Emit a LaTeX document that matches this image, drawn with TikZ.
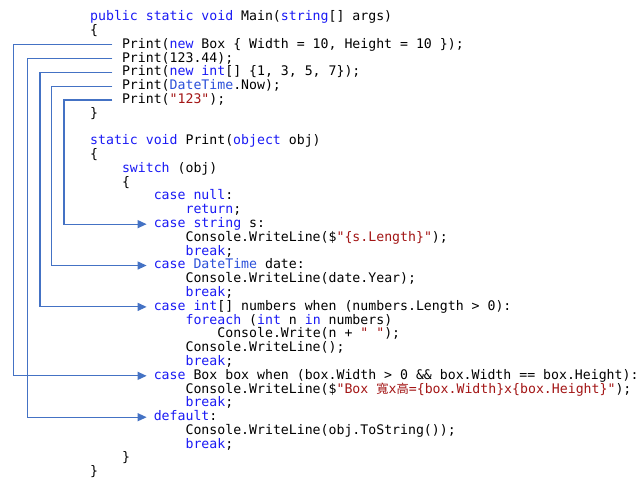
\documentclass[tikz,border=0pt]{standalone}
\usepackage{fontspec}
\usetikzlibrary{arrows.meta}
\newfontfamily\codefont{DejaVu Sans Mono}
\newfontfamily\cjkfont{Noto Sans CJK TC}
\definecolor{kwc}{HTML}{1A1AF5}
\definecolor{typc}{HTML}{2B50DA}
\definecolor{strc}{HTML}{A31515}
\definecolor{connc}{HTML}{4472C4}
\newcommand\K[1]{\textcolor{kwc}{#1}}
\newcommand\T[1]{\textcolor{typc}{#1}}
\newcommand\St[1]{\textcolor{strc}{#1}}
\newcommand\CJ[1]{{\cjkfont\fontsize{12.3pt}{13.75pt}\selectfont #1}}
\newcommand\cl[4]{\node[codeline] (#1) at ({90+#2*7.95},{-(20.7+13.79*#3)}) {#4};}
\begin{document}
\begin{tikzpicture}[x=1pt,y=1pt,
  codeline/.style={anchor=base west, inner sep=0pt, text height=6.8pt, text depth=0pt,
    font={\codefont\fontsize{13.2pt}{13.75pt}\selectfont}},
  conn/.style={draw=connc, line width=1.2pt, -{Triangle[length=9pt,width=8pt]}}]
\fill[white] (0,0) rectangle (643,-488);
\useasboundingbox (0,0) rectangle (643,-488);
\cl{main}{0}{0}{\K{public} \K{static} \K{void} Main(\K{string}[] args)}
\cl{ob1}{0}{1}{\{}
\cl{pBox}{4}{2}{Print(\K{new} Box \{ Width = 10, Height = 10 \});}
\cl{pNum}{4}{3}{Print(123.44);}
\cl{pArr}{4}{4}{Print(\K{new} \K{int}[] \{1, 3, 5, 7\});}
\cl{pDate}{4}{5}{Print(\T{DateTime}.Now);}
\cl{pStr}{4}{6}{Print(\St{"123"});}
\cl{cb1}{0}{7}{\}}
\cl{pr}{0}{9}{\K{static} \K{void} Print(\K{object} obj)}
\cl{ob2}{0}{10}{\{}
\cl{sw}{4}{11}{\K{switch} (obj)}
\cl{ob3}{4}{12}{\{}
\cl{cNull}{8}{13}{\K{case} \K{null}:}
\cl{ret}{12}{14}{\K{return};}
\cl{cStr}{8}{15}{\K{case} \K{string} s:}
\cl{wl1}{12}{16}{Console.WriteLine(\$\St{"\{s.Length\}"});}
\cl{br1}{12}{17}{\K{break};}
\cl{cDate}{8}{18}{\K{case} \T{DateTime} date:}
\cl{wl2}{12}{19}{Console.WriteLine(date.Year);}
\cl{br2}{12}{20}{\K{break};}
\cl{cArr}{8}{21}{\K{case} \K{int}[] numbers when (numbers.Length > 0):}
\cl{fe}{12}{22}{\K{foreach} (\K{int} n \K{in} numbers)}
\cl{cw}{16}{23}{Console.Write(n + \St{" "});}
\cl{wl3}{12}{24}{Console.WriteLine();}
\cl{br3}{12}{25}{\K{break};}
\cl{cBox}{8}{26}{\K{case} Box box when (box.Width > 0 \&\& box.Width == box.Height):}
\cl{wl4}{12}{27}{Console.WriteLine(\$\St{"Box \CJ{寬}x\CJ{高}=\{box.Width\}x\{box.Height\}"});}
\cl{br4}{12}{28}{\K{break};}
\cl{cDef}{8}{29}{\K{default}:}
\cl{wl5}{12}{30}{Console.WriteLine(obj.ToString());}
\cl{br5}{12}{31}{\K{break};}
\cl{cb2}{4}{32}{\}}
\cl{cb3}{0}{33}{\}}
\coordinate (vBox) at (13.3,0);
\coordinate (vNum) at (27.3,0);
\coordinate (vArr) at (40,0);
\coordinate (vDate) at (51.7,0);
\coordinate (vStr) at (64,0);
\draw[conn] ([xshift=-9.5pt]pBox.west) -| (vBox |- cBox.west) -- ([xshift=-7pt]cBox.west);
\draw[conn] ([xshift=-9.5pt]pNum.west) -| (vNum |- cDef.west) -- ([xshift=-7pt]cDef.west);
\draw[conn] ([xshift=-9.5pt]pArr.west) -| (vArr |- cArr.west) -- ([xshift=-7pt]cArr.west);
\draw[conn] ([xshift=-9.5pt]pDate.west) -| (vDate |- cDate.west) -- ([xshift=-7pt]cDate.west);
\draw[conn] ([xshift=-9.5pt]pStr.west) -| (vStr |- cStr.west) -- ([xshift=-7pt]cStr.west);
\end{tikzpicture}
\end{document}
